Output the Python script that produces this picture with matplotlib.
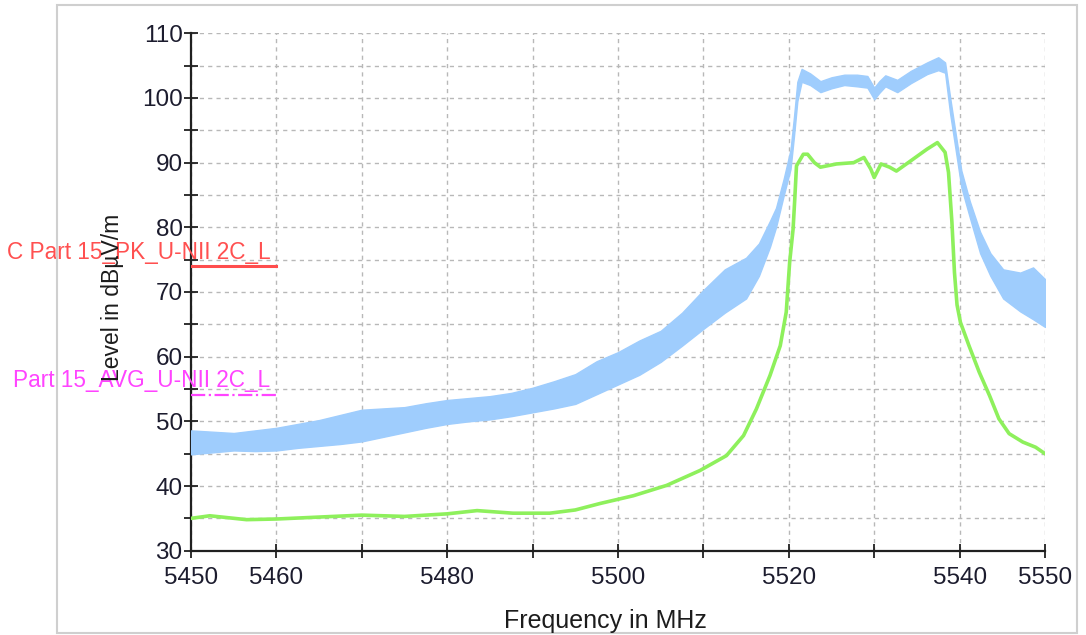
import matplotlib
matplotlib.use("Agg")
import matplotlib.pyplot as plt
from matplotlib.patches import Rectangle
from matplotlib.ticker import FixedLocator, MultipleLocator

plt.rcParams['font.family'] = ['Liberation Sans', 'DejaVu Sans']

# ---- Peak trace (blue band: lower / upper envelope) ----
pk_freq = [5450, 5452.5, 5455, 5457.5, 5460, 5462.5, 5465, 5467.5, 5470, 5472.5,
           5475, 5477.5, 5480, 5482.5, 5485, 5487.5, 5490, 5492.5, 5495, 5497.5,
           5500, 5502.5, 5505, 5507.5, 5510, 5512.5, 5515, 5516.5, 5517.8, 5518.5,
           5519.4, 5520.2, 5520.6, 5521.0, 5521.5, 5522.5, 5523.7, 5525, 5526.5, 5528,
           5529.2, 5530, 5530.6, 5531.3, 5532.7, 5534.3, 5536.2, 5537.5, 5538.3, 5538.9,
           5539.5, 5540.2, 5541.2, 5542.4, 5543.6, 5545.1, 5547.1, 5548.6, 5550]
pk_low = [44.9, 45.2, 45.5, 45.4, 45.5, 45.9, 46.2, 46.5, 46.9, 47.6,
          48.3, 49.0, 49.6, 50.0, 50.3, 50.8, 51.4, 52.0, 52.7, 54.2,
          55.7, 57.2, 59.2, 61.7, 64.3, 66.8, 69.0, 72.5, 77.0, 80.0,
          84.9, 89.0, 94.0, 99.5, 102.5, 102.0, 100.9, 101.5, 102.0, 101.8,
          101.6, 99.8, 100.8, 101.8, 100.9, 102.3, 103.7, 104.3, 103.9, 97.5,
          92.3, 86.2, 81.5, 76.0, 72.5, 69.0, 67.0, 65.8, 64.6]
pk_high = [48.6, 48.4, 48.2, 48.6, 49.0, 49.6, 50.2, 51.0, 51.8, 52.0,
           52.2, 52.8, 53.3, 53.6, 53.9, 54.4, 55.2, 56.2, 57.3, 59.3,
           60.7, 62.5, 64.0, 66.8, 70.3, 73.5, 75.3, 77.5, 81.0, 83.0,
           87.5, 92.0, 97.0, 102.5, 104.5, 103.8, 102.6, 103.2, 103.6, 103.6,
           103.4, 101.6, 102.6, 103.5, 102.8, 104.2, 105.5, 106.3, 105.5, 100.0,
           94.8, 88.8, 84.0, 79.3, 76.0, 73.5, 73.0, 73.8, 72.0]

# ---- Average trace (green) ----
av_freq = [5450, 5452.2, 5456.5, 5460, 5465, 5470, 5475, 5480, 5483.5, 5487.7,
           5492, 5495, 5497.9, 5501.8, 5505.7, 5509.6, 5512.7, 5514.7, 5516.2, 5517.8,
           5519, 5519.7, 5520.1, 5520.5, 5520.7, 5520.9, 5521.7, 5522.2, 5523.0, 5523.7,
           5525.6, 5527.6, 5528.8, 5529.6, 5530, 5530.8, 5531.8, 5532.6, 5534.3, 5536.2,
           5537.4, 5538.3, 5538.7, 5539.1, 5539.4, 5539.7, 5540.1, 5541.1, 5542.3, 5543.5,
           5544.6, 5545.8, 5547.4, 5548.9, 5550]
av_level = [35.0, 35.4, 34.8, 34.9, 35.2, 35.5, 35.3, 35.7, 36.2, 35.8,
            35.8, 36.3, 37.3, 38.5, 40.1, 42.4, 44.7, 47.8, 51.9, 57.1,
            61.7, 66.9, 74.6, 79.7, 84.4, 89.5, 91.3, 91.3, 90.0, 89.3,
            89.8, 90.0, 90.8, 89.0, 87.7, 89.8, 89.3, 88.7, 90.3, 92.1,
            93.1, 91.6, 88.5, 80.8, 73.0, 68.0, 65.3, 61.7, 57.6, 54.0,
            50.4, 48.1, 46.8, 46.0, 45.0]

# ---- Limit lines ----
limit_freq = [5450, 5460]
pk_limit = [74, 74]
av_limit = [54, 54]
pk_limit_label = "C Part 15_PK_U-NII 2C_L"
av_limit_label = "Part 15_AVG_U-NII 2C_L"

x_ticks = [5450, 5460, 5470, 5480, 5490, 5500, 5510, 5520, 5530, 5540, 5550]
x_ticklabels = ["5450", "5460", "", "5480", "", "5500", "", "5520", "", "5540", "5550"]
y_ticks = [30, 40, 50, 60, 70, 80, 90, 100, 110]

W, H = 1086, 635
fig = plt.figure(figsize=(W / 100, H / 100), dpi=100)
fig.patch.set_facecolor('white')

# outer light gray frame
fig.add_artist(Rectangle((57 / W, 1 - 633 / H), (1077 - 57) / W, (633 - 5) / H,
                         transform=fig.transFigure, fill=False,
                         edgecolor='#cfcfcf', lw=1.5))

ax = fig.add_axes([191 / W, 1 - 550.7 / H, (1045 - 191) / W, (550.7 - 33.3) / H])
ax.set_xlim(5450, 5550)
ax.set_ylim(30, 110)

ax.fill_between(pk_freq, pk_low, pk_high, color='#9fcdfd', lw=1.0,
                edgecolor='#9fcdfd', zorder=3)
ax.plot(av_freq, av_level, color='#8ef05c', lw=2.6, zorder=4)

ax.plot(limit_freq, pk_limit, color='#ff4d4d', lw=2.2, zorder=5)
ax.plot(limit_freq, av_limit, color='#ff44ff', lw=1.6, ls='-.', zorder=5)
ax.text(5459.3, 74.4, pk_limit_label, ha='right', va='bottom', color='#ff5050',
        fontsize=16.3, clip_on=False, zorder=6)
ax.text(5459.3, 54.5, av_limit_label, ha='right', va='bottom', color='#ff44ff',
        fontsize=16.3, clip_on=False, zorder=6)

ax.xaxis.set_major_locator(FixedLocator(x_ticks))
ax.set_xticklabels(x_ticklabels)
ax.yaxis.set_major_locator(FixedLocator(y_ticks))
ax.yaxis.set_minor_locator(MultipleLocator(5))
ax.tick_params(axis='both', which='both', direction='inout', width=1.3,
               color='#202020', labelsize=17.5, labelcolor='#1c1c2e')
ax.tick_params(axis='both', which='major', length=10)
ax.tick_params(axis='y', which='minor', length=10)
ax.tick_params(axis='x', pad=7)
ax.tick_params(axis='y', pad=1)

ax.grid(True, which='both', color='#b8b8b8', ls=(0, (3, 3)), lw=1.0, zorder=1)
ax.set_axisbelow(True)
for s in ['top', 'right']:
    ax.spines[s].set_visible(False)
for s in ['left', 'bottom']:
    ax.spines[s].set_linewidth(1.6)
    ax.spines[s].set_color('#202020')

fig.text(605 / W, 1 - 621 / H, "Frequency in MHz", ha='center', va='center',
         fontsize=18, color='#1c1c1c')
fig.text(112 / W, 1 - 297 / H, "Level in dBµV/m", ha='center', va='center',
         rotation=90, fontsize=16.5, color='#1c1c1c', zorder=0)

fig.savefig('out.png', dpi=100)
